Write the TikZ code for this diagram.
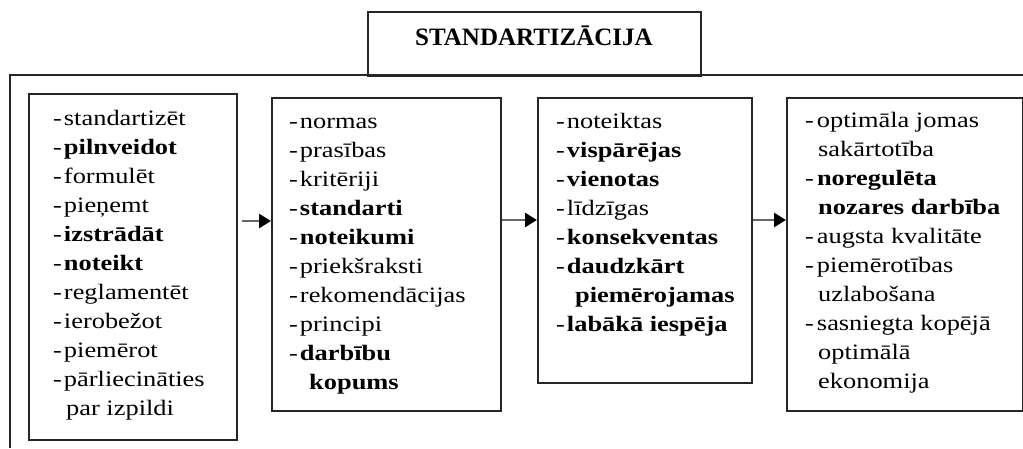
\documentclass[tikz,border=0pt]{standalone}
\usepackage{fontspec}
\setmainfont{Liberation Serif}
\newfontfamily\bodyfont{Liberation Serif}[FakeStretch=1.2]
\usetikzlibrary{arrows.meta}
\begin{document}
\begin{tikzpicture}[x=1pt,y=-1pt,
  box/.style={draw=black!85,line width=2pt,rectangle,anchor=north west,inner sep=0pt},
  frame/.style={draw=black!85,line width=2pt},
  list/.style={anchor=north west,inner sep=0pt,align=left,font=\bodyfont\fontsize{22}{29}\selectfont},
  arr/.style={draw=black!60,line width=2.6pt,-{Triangle[length=12pt,width=14pt,color=black]}}]
\useasboundingbox (0,0) rectangle (1023,448);
\fill[white] (0,0) rectangle (1023,448);
% outer frame (clipped by the page)
\draw[frame] (9.5,448) -- (9.5,75) -- (1023,75);
% title
\node[box,minimum width=333pt,minimum height=64pt] (title) at (367,11) {};
\node[anchor=base,inner sep=0pt,font=\bfseries\fontsize{25}{25}\selectfont] (ttext) at (534,45) {STANDARTIZĀCIJA};
% boxes
\node[box,minimum width=208pt,minimum height=346pt] (b1) at (28,93) {};
\node[box,minimum width=229pt,minimum height=313pt] (b2) at (271,97) {};
\node[box,minimum width=214pt,minimum height=285pt] (b3) at (537,97) {};
\node[box,minimum width=236pt,minimum height=313pt] (b4) at (786,97) {};
% lists
\node[list] (t1) at (53,108) {\rule{0pt}{17pt}-\kern2pt standartizēt\\
-\kern2pt\textbf{pilnveidot}\\
-\kern2pt formulēt\\
-\kern2pt pieņemt\\
-\kern2pt\textbf{izstrādāt}\\
-\kern2pt\textbf{noteikt}\\
-\kern2pt reglamentēt\\
-\kern2pt ierobežot\\
-\kern2pt piemērot\\
-\kern2pt pārliecināties\\
\hspace*{13pt}par izpildi};
\node[list] (t2) at (289,111) {\rule{0pt}{17pt}-\kern2pt normas\\
-\kern2pt prasības\\
-\kern2pt kritēriji\\
-\kern2pt\textbf{standarti}\\
-\kern2pt\textbf{noteikumi}\\
-\kern2pt priekšraksti\\
-\kern2pt rekomendācijas\\
-\kern2pt principi\\
-\kern2pt\textbf{darbību}\\
\hspace*{20pt}\textbf{kopums}};
\node[list] (t3) at (556,111) {\rule{0pt}{17pt}-\kern2pt noteiktas\\
-\kern2pt\textbf{vispārējas}\\
-\kern2pt\textbf{vienotas}\\
-\kern2pt līdzīgas\\
-\kern2pt\textbf{konsekventas}\\
-\kern2pt\textbf{daudzkārt}\\
\hspace*{19pt}\textbf{piemērojamas}\\
-\kern2pt\textbf{labākā iespēja}};
\node[list] (t4) at (805,110) {\rule{0pt}{17pt}-\kern3pt optimāla jomas\\
\hspace*{13pt}sakārtotība\\
-\kern3pt\textbf{noregulēta}\\
\hspace*{13pt}\textbf{nozares darbība}\\
-\kern3pt augsta kvalitāte\\
-\kern3pt piemērotības\\
\hspace*{13pt}uzlabošana\\
-\kern3pt sasniegta kopējā\\
\hspace*{13pt}optimālā\\
\hspace*{13pt}ekonomija};
% arrows
\coordinate (ya) at (0,221);
\coordinate (yb) at (0,220);
\coordinate (s1) at ([xshift=4pt]b1.east);
\draw[arr] (s1 |- ya) -- (b2.west |- ya);
\draw[arr] (b2.east |- yb) -- (b3.west |- yb);
\draw[arr] (b3.east |- yb) -- (b4.west |- yb);
\end{tikzpicture}
\end{document}
